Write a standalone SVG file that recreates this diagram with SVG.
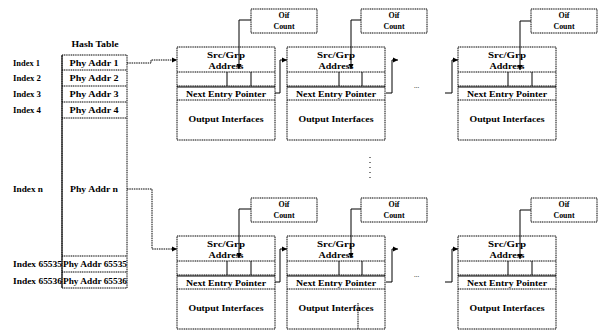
<svg xmlns="http://www.w3.org/2000/svg" width="607" height="331" viewBox="0 0 607 331">
<style>
text{font-family:"Liberation Serif","Times New Roman",serif;font-weight:bold;font-size:8px;fill:#000}
.m{text-anchor:middle}
.b{fill:#fff;stroke:#000;stroke-width:1;stroke-dasharray:1.2 0.6}
.d{stroke:#000;stroke-width:1;fill:none;stroke-dasharray:1.2 0.6}
.s{stroke:#000;stroke-width:1;fill:none}
.c{stroke:#000;stroke-width:1;fill:none;stroke-dasharray:1.5 0.8}
.v{stroke:#000;stroke-width:1;fill:none}
</style>
<defs>
<marker id="ah" markerWidth="6" markerHeight="6" refX="5" refY="3" orient="auto" markerUnits="userSpaceOnUse">
<path d="M0,0.5 L5,3 L0,5.5 Z" fill="#000"/>
</marker>
<g id="entry">
<rect class="b" x="0" y="0" width="98" height="93"/>
<line class="d" x1="0" y1="25" x2="98" y2="25"/>
<line class="d" x1="0" y1="39" x2="98" y2="39"/>
<line class="s" x1="0" y1="40" x2="98" y2="40"/>
<line class="d" x1="0" y1="53" x2="98" y2="53"/>
<text class="m" x="49" y="11" textLength="38" lengthAdjust="spacingAndGlyphs">Src/Grp</text>
<text class="m" x="49" y="22" textLength="35" lengthAdjust="spacingAndGlyphs">Address</text>
<text class="m" x="49" y="50" textLength="80" lengthAdjust="spacingAndGlyphs">Next Entry Pointer</text>
<text class="m" x="49" y="75" textLength="75" lengthAdjust="spacingAndGlyphs">Output Interfaces</text>
</g>
<g id="oif">
<rect class="b" x="0" y="0" width="66" height="24"/>
<text class="m" x="33" y="9" textLength="11" lengthAdjust="spacingAndGlyphs">Oif</text>
<text class="m" x="33" y="20" textLength="21" lengthAdjust="spacingAndGlyphs">Count</text>
</g>
</defs>

<g id="hash-table">
<text class="m" x="95" y="47" textLength="47" lengthAdjust="spacingAndGlyphs">Hash Table</text>
<rect class="b" x="62" y="55" width="65" height="233"/>
<line class="d" x1="62" y1="70" x2="127" y2="70"/>
<line class="d" x1="62" y1="86" x2="127" y2="86"/>
<line class="d" x1="62" y1="102" x2="127" y2="102"/>
<line class="d" x1="62" y1="118" x2="127" y2="118"/>
<line class="d" x1="62" y1="256" x2="127" y2="256"/>
<line class="d" x1="62" y1="272" x2="127" y2="272"/>
<line class="s" x1="62" y1="55" x2="62" y2="288"/>
<text class="m" x="94" y="66" textLength="49" lengthAdjust="spacingAndGlyphs">Phy Addr 1</text>
<text class="m" x="94" y="81" textLength="49" lengthAdjust="spacingAndGlyphs">Phy Addr 2</text>
<text class="m" x="94" y="97" textLength="49" lengthAdjust="spacingAndGlyphs">Phy Addr 3</text>
<text class="m" x="94" y="113" textLength="49" lengthAdjust="spacingAndGlyphs">Phy Addr 4</text>
<text class="m" x="94" y="192" textLength="48" lengthAdjust="spacingAndGlyphs">Phy Addr n</text>
<text class="m" x="95" y="267" textLength="64" lengthAdjust="spacingAndGlyphs">Phy Addr 65535</text>
<text class="m" x="95" y="284" textLength="64" lengthAdjust="spacingAndGlyphs">Phy Addr 65536</text>
</g>

<g id="index-labels">
<text x="13" y="66" textLength="27" lengthAdjust="spacingAndGlyphs">Index 1</text>
<text x="13" y="81" textLength="28" lengthAdjust="spacingAndGlyphs">Index 2</text>
<text x="13" y="97" textLength="28" lengthAdjust="spacingAndGlyphs">Index 3</text>
<text x="13" y="113" textLength="28" lengthAdjust="spacingAndGlyphs">Index 4</text>
<text x="13" y="192" textLength="30" lengthAdjust="spacingAndGlyphs">Index n</text>
<text x="13" y="267" textLength="49" lengthAdjust="spacingAndGlyphs">Index 65535</text>
<text x="13" y="284" textLength="49" lengthAdjust="spacingAndGlyphs">Index 65536</text>
</g>

<g id="entry-top-1"><use href="#entry" x="177" y="47"/><line class="s" x1="227" y1="72" x2="227" y2="86"/><line class="s" x1="251" y1="72" x2="251" y2="86"/></g>
<g id="entry-top-2"><use href="#entry" x="287" y="47"/><line class="s" x1="339" y1="72" x2="339" y2="86"/><line class="s" x1="362" y1="72" x2="362" y2="86"/></g>
<g id="entry-top-3"><use href="#entry" x="458" y="47"/><line class="s" x1="508" y1="72" x2="508" y2="86"/><line class="s" x1="532" y1="72" x2="532" y2="86"/></g>
<g id="oif-top-1"><use href="#oif" x="251" y="9"/></g>
<g id="oif-top-2"><use href="#oif" x="361" y="9"/></g>
<g id="oif-top-3"><use href="#oif" x="531" y="9"/></g>

<g id="entry-bot-1"><use href="#entry" x="177" y="236"/><line class="s" x1="227" y1="261" x2="227" y2="275"/><line class="s" x1="251" y1="261" x2="251" y2="275"/></g>
<g id="entry-bot-2"><use href="#entry" x="287" y="236"/><line class="s" x1="339" y1="261" x2="339" y2="275"/><line class="s" x1="362" y1="261" x2="362" y2="275"/><line class="d" x1="358" y1="303" x2="358" y2="329"/></g>
<g id="entry-bot-3"><use href="#entry" x="458" y="236"/><line class="s" x1="508" y1="261" x2="508" y2="275"/><line class="s" x1="532" y1="261" x2="532" y2="275"/></g>
<g id="oif-bot-1"><use href="#oif" x="251" y="198"/></g>
<g id="oif-bot-2"><use href="#oif" x="361" y="198"/></g>
<g id="oif-bot-3"><use href="#oif" x="531" y="198"/></g>

<g id="connectors">
<path class="c" d="M127,63 H151 V60 H177" marker-end="url(#ah)"/>
<path class="c" d="M127,189 H152 V249 H177" marker-end="url(#ah)"/>
<path class="v" d="M275,93 H280 V60 H287" marker-end="url(#ah)"/>
<path class="v" d="M386,93 H392 V60 H398" marker-end="url(#ah)"/>
<path class="v" d="M445,93 H452 V60 H458" marker-end="url(#ah)"/>
<path class="v" d="M275,282 H280 V249 H287" marker-end="url(#ah)"/>
<path class="v" d="M386,282 H392 V249 H398" marker-end="url(#ah)"/>
<path class="v" d="M445,282 H452 V249 H458" marker-end="url(#ah)"/>
<path class="v" d="M251,20 H239 V69" marker-end="url(#ah)"/>
<path class="v" d="M361,20 H351 V69" marker-end="url(#ah)"/>
<path class="v" d="M531,21 H520 V70" marker-end="url(#ah)"/>
<path class="v" d="M251,209 H239 V258" marker-end="url(#ah)"/>
<path class="v" d="M361,209 H351 V258" marker-end="url(#ah)"/>
<path class="v" d="M531,210 H520 V259" marker-end="url(#ah)"/>
</g>

<g id="ellipses">
<text x="414" y="88" style="font-weight:normal;font-size:7px">...</text>
<text x="414" y="277" style="font-weight:normal;font-size:7px">...</text>
<line x1="370" y1="157" x2="370" y2="178" stroke="#000" stroke-width="1" stroke-dasharray="1 4"/>
</g>
</svg>
